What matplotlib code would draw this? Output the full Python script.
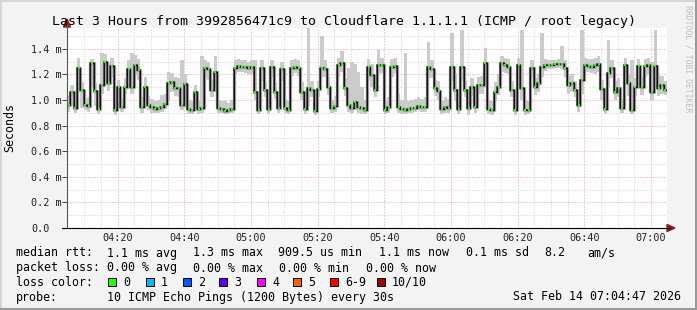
import numpy as np
import matplotlib.pyplot as plt
from matplotlib.lines import Line2D
from matplotlib.patches import Polygon, Rectangle

# 1-minute samples from 04:04:47 (minutes since midnight), values in ms
start = 4 * 60 + 4 + 47 / 60.0

median_rtt = [
    0.961, 1.065, 0.935, 1.247, 1.078, 0.961, 0.953, 1.290, 1.073, 0.927,
    1.117, 1.299, 1.130, 1.266, 0.922, 1.104, 0.948, 1.104, 1.240, 1.104,
    1.273, 1.234, 0.948, 1.104, 0.961, 0.943, 0.927, 0.935, 0.943, 0.969,
    1.130, 1.143, 1.091, 1.091, 0.961, 1.125, 0.927, 0.922, 1.065, 0.927,
    0.935, 1.247, 1.240, 1.078, 1.221, 0.935, 0.930, 0.917, 0.922, 0.930,
    1.247, 1.266, 1.260, 1.255, 1.247, 1.255, 1.065, 0.922, 1.247, 1.078,
    0.927, 1.255, 1.065, 0.935, 1.240, 0.935, 0.922, 1.247, 1.260, 1.247,
    1.065, 0.927, 1.091, 1.078, 0.917, 1.083, 1.247, 1.240, 1.104, 0.935,
    0.953, 1.273, 1.286, 1.091, 0.961, 0.935, 0.987, 0.948, 0.935, 0.922,
    1.260, 1.195, 1.078, 1.273, 1.273, 0.922, 0.948, 1.260, 1.266, 0.948,
    0.927, 0.922, 0.927, 0.935, 0.940, 0.953, 0.948, 0.948, 1.260, 1.240,
    1.091, 1.070, 0.927, 0.948, 0.935, 1.255, 1.078, 0.927, 1.260, 1.078,
    0.935, 1.099, 0.943, 1.117, 1.117, 1.286, 0.927, 0.922, 1.065, 1.104,
    1.286, 1.273, 1.260, 1.078, 0.922, 1.273, 1.091, 0.922, 0.922, 1.247,
    1.099, 1.130, 1.260, 1.273, 1.273, 1.273, 1.281, 1.279, 1.281, 1.247,
    1.117, 1.130, 1.078, 0.961, 1.156, 1.273, 1.268, 1.260, 1.273, 1.281,
    1.083, 0.927, 1.208, 1.247, 1.065, 1.091, 0.935, 1.273, 1.130, 0.922,
    1.099, 1.266, 1.104, 1.266, 1.273, 1.065, 1.266, 1.091, 1.117, 1.078,
]

ping_lo = [
    0.91, 0.95, 0.90, 1.10, 0.94, 0.92, 0.91, 1.10, 0.95, 0.89,
    1.05, 1.20, 1.07, 1.18, 0.88, 1.04, 0.91, 1.05, 1.15, 1.05,
    1.20, 1.16, 0.90, 1.05, 0.92, 0.90, 0.90, 0.90, 0.91, 0.93,
    1.00, 1.06, 1.03, 1.02, 0.92, 1.05, 0.89, 0.89, 1.00, 0.89,
    0.90, 1.17, 1.16, 1.02, 1.14, 0.90, 0.90, 0.89, 0.89, 0.90,
    1.20, 1.22, 1.22, 1.21, 1.20, 1.20, 1.00, 0.89, 1.15, 1.02,
    0.89, 1.18, 1.01, 0.90, 1.15, 0.90, 0.89, 1.19, 1.21, 1.19,
    1.00, 0.89, 0.95, 1.02, 0.88, 1.02, 1.18, 1.18, 1.04, 0.90,
    0.91, 1.18, 1.22, 1.03, 0.91, 0.90, 0.92, 0.90, 0.89, 0.89,
    1.15, 1.10, 1.02, 1.20, 1.21, 0.89, 0.90, 1.18, 1.21, 0.90,
    0.89, 0.89, 0.90, 0.90, 0.91, 0.92, 0.91, 0.91, 1.17, 1.17,
    1.03, 1.00, 0.89, 0.90, 0.90, 1.15, 1.00, 0.89, 1.15, 1.02,
    0.88, 1.03, 0.90, 1.05, 1.05, 1.20, 0.89, 0.88, 1.00, 1.04,
    1.22, 1.21, 1.20, 1.02, 0.88, 1.18, 1.00, 0.88, 0.89, 1.18,
    1.04, 1.06, 1.18, 1.23, 1.24, 1.24, 1.25, 1.25, 1.24, 1.18,
    1.05, 1.06, 1.02, 0.91, 1.05, 1.22, 1.22, 1.21, 1.20, 1.22,
    1.00, 0.89, 1.10, 1.17, 1.00, 1.02, 0.90, 1.18, 1.03, 0.89,
    1.03, 1.18, 1.04, 1.18, 1.20, 1.00, 1.10, 1.03, 1.05, 1.04,
]

ping_hi = [
    1.03, 1.12, 1.00, 1.33, 1.14, 1.01, 1.02, 1.32, 1.13, 0.99,
    1.37, 1.36, 1.30, 1.33, 0.98, 1.16, 1.01, 1.17, 1.31, 1.37,
    1.35, 1.32, 1.02, 1.18, 1.03, 1.01, 0.99, 1.00, 1.04, 1.05,
    1.22, 1.21, 1.18, 1.17, 1.31, 1.20, 1.00, 0.99, 1.12, 0.99,
    1.34, 1.31, 1.30, 1.16, 1.34, 1.00, 0.99, 0.99, 0.98, 1.00,
    1.31, 1.32, 1.31, 1.31, 1.30, 1.31, 1.31, 0.99, 1.31, 1.14,
    0.99, 1.31, 1.13, 1.00, 1.30, 1.00, 0.99, 1.31, 1.32, 1.31,
    1.14, 0.99, 1.56, 1.15, 0.99, 1.15, 1.50, 1.31, 1.18, 1.00,
    1.03, 1.33, 1.38, 1.17, 1.25, 1.30, 1.28, 1.22, 1.10, 1.00,
    1.32, 1.28, 1.16, 1.39, 1.33, 0.99, 1.02, 1.32, 1.33, 1.05,
    1.00, 1.37, 0.99, 1.00, 1.01, 1.02, 1.01, 1.02, 1.45, 1.31,
    1.16, 1.15, 1.00, 1.02, 1.01, 1.52, 1.20, 1.00, 1.55, 1.15,
    1.00, 1.17, 1.01, 1.18, 1.19, 1.41, 1.00, 0.99, 1.14, 1.20,
    1.34, 1.33, 1.32, 1.15, 0.99, 1.33, 1.55, 0.99, 0.99, 1.31,
    1.17, 1.20, 1.52, 1.32, 1.31, 1.31, 1.31, 1.32, 1.42, 1.31,
    1.19, 1.20, 1.15, 1.05, 1.55, 1.33, 1.32, 1.32, 1.33, 1.34,
    1.16, 1.00, 1.47, 1.31, 1.15, 1.17, 1.01, 1.33, 1.20, 1.31,
    1.17, 1.32, 1.18, 1.32, 1.33, 1.30, 1.55, 1.20, 1.19, 1.15,
]

x_ticks = [260, 280, 300, 320, 340, 360, 380, 400, 420]
x_labels = ['04:20', '04:40', '05:00', '05:20', '05:40', '06:00', '06:20', '06:40', '07:00']
y_ticks = [0.0, 0.2, 0.4, 0.6, 0.8, 1.0, 1.2, 1.4]
y_labels = ['0.0', '0.2 m', '0.4 m', '0.6 m', '0.8 m', '1.0 m', '1.2 m', '1.4 m']

loss_names = ['0', '1', '2', '3', '4', '5', '6-9', '10/10']
loss_colors = ['#26ff00', '#00b8ff', '#0059ff', '#5e00ff', '#ff00ff', '#ff5e00', '#ff0000', '#a10000']

W, H = 697, 310
MONO = 'DejaVu Sans Mono'


def fx(px):
    return px / W


def fy(py):
    return 1 - py / H


fig = plt.figure(figsize=(W / 100, H / 100), dpi=100)
fig.patch.set_facecolor('#f3f3f3')

ax = fig.add_axes([fx(67), fy(228), 600 / W, 200 / H])
ax.set_facecolor('white')

n = len(median_rtt)
t = start + np.arange(n)
te = np.append(t, t[-1] + 1)
med_e = np.append(median_rtt, median_rtt[-1])
lo_e = np.append(ping_lo, ping_lo[-1])
hi_e = np.append(ping_hi, ping_hi[-1])

# smoke: light outer band, darker core around the median
ax.fill_between(te, lo_e, hi_e, step='post', color='#cbcbcb', lw=0, zorder=2)
ax.step(te, med_e, where='post', color='#a6a6a6', lw=2.4, zorder=3)
ax.step(te, med_e, where='post', color='#5a5a5a', lw=1.4, zorder=4)
ax.step(te, med_e, where='post', color='#111111', lw=0.8, zorder=5)
ax.plot(t + 0.5, median_rtt, 's', color=loss_colors[0], ms=1.9, mew=0, zorder=6)

ax.set_xlim(start, start + 180)
ax.set_ylim(0, 200 / 128)

ax.set_xticks(x_ticks)
ax.set_xticklabels(x_labels, fontfamily=MONO, fontsize=7.3, color='#222222')
ax.set_xticks(np.arange(250, 425, 5), minor=True)
ax.set_yticks(y_ticks)
ax.set_yticklabels(y_labels, fontfamily=MONO, fontsize=7.3, color='#222222')
ax.set_yticks(np.arange(0.1, 1.6, 0.2), minor=True)
for lab in ax.get_yticklabels():
    lab.set_horizontalalignment('left')
ax.tick_params(axis='x', which='both', length=0, pad=3.5)
ax.tick_params(axis='y', which='major', length=3.6, width=0.7, color='#444444', pad=22.3)
ax.tick_params(axis='y', which='minor', length=0)

dots = (0, (1, 2))
ax.grid(which='minor', color='#cfcfcf', ls=dots, lw=0.72, zorder=1)
ax.grid(which='major', color='#f29a9a', ls=dots, lw=0.72, zorder=1)
ax.set_axisbelow(True)
for s in ax.spines.values():
    s.set_visible(False)

# axis lines with arrows
fig.add_artist(Line2D([fx(67), fx(67)], [fy(228), fy(24)], color='#555555', lw=0.8))
fig.add_artist(Line2D([fx(62), fx(670)], [fy(228), fy(228)], color='black', lw=0.8))
fig.add_artist(Polygon([[fx(67), fy(19)], [fx(63.5), fy(27)], [fx(70.5), fy(27)]],
                       closed=True, color='#8c1c1c', transform=fig.transFigure))
fig.add_artist(Polygon([[fx(675), fy(228)], [fx(667), fy(224.5)], [fx(667), fy(231.5)]],
                       closed=True, color='#8c1c1c', transform=fig.transFigure))

# outer frame
fig.add_artist(Line2D([0, 1], [fy(0.5), fy(0.5)], color='#d6d6d6', lw=1.4))
fig.add_artist(Line2D([fx(0.5), fx(0.5)], [0, 1], color='#d6d6d6', lw=1.4))
fig.add_artist(Line2D([0, 1], [fy(308.5), fy(308.5)], color='#9a9a9a', lw=2.2))
fig.add_artist(Line2D([fx(695.5), fx(695.5)], [0, 1], color='#9a9a9a', lw=2.2))

fig.text(fx(344), fy(22), 'Last 3 Hours from 3992856471c9 to Cloudflare 1.1.1.1 (ICMP / root legacy)',
         ha='center', va='center', fontfamily=MONO, fontsize=9.5, color='black')
fig.text(fx(10), fy(127), 'Seconds', rotation=90, ha='center', va='center',
         fontfamily=MONO, fontsize=8.4, color='black')
fig.text(fx(688), fy(59), 'RRDTOOL / TOBI OETIKER', rotation=270, ha='center', va='center',
         fontfamily=MONO, fontsize=5.9, color='#bdbdbd')

fs = 8.4
row1 = [(16, 'median rtt:'), (107, '1.1 ms avg'), (193, '1.3 ms max'), (278, '909.5 us min'),
        (379, '1.1 ms now'), (466, '0.1 ms sd'), (544, '8.2'), (587, 'am/s')]
row2 = [(16, 'packet loss:'), (107, '0.00 % avg'), (193, '0.00 % max'), (279, '0.00 % min'),
        (366, '0.00 % now')]
for xp, s in row1:
    fig.text(fx(xp), fy(253), s, ha='left', va='center', fontfamily=MONO, fontsize=fs)
for xp, s in row2:
    fig.text(fx(xp), fy(268), s, ha='left', va='center', fontfamily=MONO, fontsize=fs)

fig.text(fx(16), fy(282), 'loss color:', ha='left', va='center', fontfamily=MONO, fontsize=fs)
sq_x = [108, 146, 183, 219, 257, 293, 330, 377]
for xp, name, col in zip(sq_x, loss_names, loss_colors):
    fig.add_artist(Rectangle((fx(xp), fy(286)), 8 / W, 8 / H, transform=fig.transFigure,
                             facecolor=col, edgecolor='black', lw=0.7))
    fig.text(fx(xp + 15), fy(282), name, ha='left', va='center', fontfamily=MONO, fontsize=fs)

fig.text(fx(16), fy(297), 'probe:', ha='left', va='center', fontfamily=MONO, fontsize=fs)
fig.text(fx(107), fy(297), '10 ICMP Echo Pings (1200 Bytes) every 30s', ha='left', va='center',
         fontfamily=MONO, fontsize=fs)
fig.text(fx(681), fy(297), 'Sat Feb 14 07:04:47 2026', ha='right', va='center',
         fontfamily=MONO, fontsize=fs)

fig.savefig('out.png', dpi=100, facecolor=fig.get_facecolor())
